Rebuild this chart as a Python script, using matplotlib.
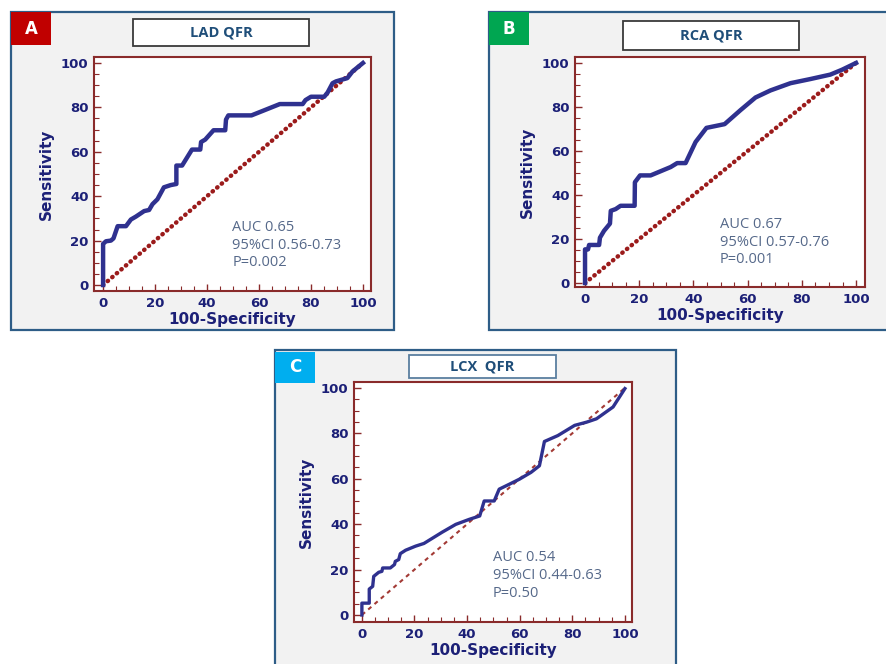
import numpy as np
import matplotlib
matplotlib.use("Agg")
import matplotlib.pyplot as plt
from matplotlib.patches import Rectangle
from matplotlib.ticker import MultipleLocator

# ROC curves (100-Specificity, Sensitivity)
lad_fpr = [0, 0, 1.1, 3, 4, 5.6, 8.8, 10.7, 12.6, 15.8, 17.7, 19, 20.9, 23.4, 26, 28.2, 28.2,
           30.4, 34.2, 37.4, 37.7, 39.3, 42.5, 47, 47.3, 48.2, 57.1, 61.6, 68, 76.8, 77.9, 80,
           85.1, 86.4, 88.3, 89.6, 94, 96, 100]
lad_tpr = [0, 18.5, 19.7, 20, 21, 26.5, 26.5, 29.5, 30.8, 33.3, 33.8, 36.4, 38.6, 44, 45, 45.5, 53.8,
           53.8, 61, 61, 64.4, 65.5, 69.7, 69.7, 74.5, 76.4, 76.4, 78.5, 81.5, 81.5, 83.3, 84.8,
           84.8, 86.7, 90.9, 91.7, 93.2, 96.2, 100]

rca_fpr = [0, 0, 1.1, 1.5, 5.2, 5.5, 7, 9.2, 9.5, 11.3, 13.1, 18.3, 18.4, 20.3, 24.2, 31.6, 34,
           37.1, 40.8, 44.8, 51.5, 57.4, 62.9, 68.4, 75.8, 83.2, 90.5, 94.8, 100]
rca_tpr = [0, 15.3, 15.3, 17.3, 17.3, 20.6, 23.7, 27, 32.8, 33.6, 35.1, 35.1, 45.8, 48.9, 48.9, 52.7,
           54.5, 54.5, 64.1, 70.5, 72.2, 78.6, 84.3, 87.5, 90.8, 92.7, 94.7, 96.9, 100]

lcx_fpr = [0, 0, 2.8, 2.8, 4.1, 4.5, 6.4, 7.6, 7.9, 10.8, 12.4, 12.7, 14, 14.6, 16.6, 20.4, 23.6,
           30.6, 35.7, 40.8, 44.8, 46.5, 50.3, 52.2, 56.1, 59.9, 64.3, 67.5, 69.4, 74.5, 80.9,
           85.4, 89.2, 95.5, 100]
lcx_tpr = [0, 5.2, 5.2, 11.4, 12.6, 17, 18.8, 19.2, 20.7, 20.7, 22.2, 23.6, 24.4, 27, 28.5, 30.3,
           31.5, 36.5, 39.9, 42.1, 43.6, 50.2, 50.2, 55.4, 57.6, 59.8, 62.8, 65.7, 76.4, 79, 83.5,
           84.9, 86.4, 91.6, 99.7]

titles = ["LAD QFR", "RCA QFR", "LCX  QFR"]
letters = ["A", "B", "C"]
stats = [["AUC 0.65", "95%CI 0.56-0.73", "P=0.002"],
         ["AUC 0.67", "95%CI 0.57-0.76", "P=0.001"],
         ["AUC 0.54", "95%CI 0.44-0.63", "P=0.50"]]

W, H = 886, 664
NAVY = "#1c2077"
CURVE = "#2f318f"
SPINE = "#8a2b2b"


def px_rect(x0, y0, x1, y1):
    # pixel box (top-left origin) -> figure fraction
    return x0 / W, 1 - y1 / H, (x1 - x0) / W, (y1 - y0) / H


fig = plt.figure(figsize=(W / 100, H / 100), dpi=100)
fig.patch.set_facecolor("white")

panels = [
    dict(frame=(11, 12, 394, 330), letter=(11, 12, 51, 45), lcol="#c00000",
         tbox=(133, 19, 309, 46), tedge="#3a3a3a", ax=(94, 57, 371, 291),
         xlim=(-3.5, 103.1), ylim=(-2.7, 102.7), lw=3.2, diag="dot"),
    dict(frame=(489, 12, 900, 330), letter=(489, 12, 529, 45), lcol="#00a651",
         tbox=(623, 21, 799, 50), tedge="#3a3a3a", ax=(575, 57, 865, 287),
         xlim=(-3.7, 103.3), ylim=(-1.8, 102.7), lw=3.2, diag="dot"),
    dict(frame=(275, 350, 676, 680), letter=(275, 352, 315, 383), lcol="#00aeef",
         tbox=(409, 355, 556, 378), tedge="#5b7fa0", ax=(354, 382, 632, 622),
         xlim=(-3.0, 102.7), ylim=(-3.1, 102.6), lw=2.4, diag="dash"),
]
curves = [(lad_fpr, lad_tpr), (rca_fpr, rca_tpr), (lcx_fpr, lcx_tpr)]

for i, p in enumerate(panels):
    x0, y0, w, h = px_rect(*p["frame"])
    fig.patches.append(Rectangle((x0, y0), w, h, transform=fig.transFigure,
                                 facecolor="#f2f2f2", edgecolor="#2e5d87", lw=1.6, zorder=-2))
    x0, y0, w, h = px_rect(*p["letter"])
    fig.patches.append(Rectangle((x0, y0), w, h, transform=fig.transFigure,
                                 facecolor=p["lcol"], edgecolor="none", zorder=-1))
    fig.text(x0 + w / 2, y0 + h / 2, letters[i], color="white", fontsize=12,
             fontweight="bold", ha="center", va="center")
    x0, y0, w, h = px_rect(*p["tbox"])
    fig.patches.append(Rectangle((x0, y0), w, h, transform=fig.transFigure,
                                 facecolor="white", edgecolor=p["tedge"], lw=1.3, zorder=-1))
    fig.text(x0 + w / 2, y0 + h / 2, titles[i], color="#1f4e79", fontsize=10.5,
             fontweight="bold", family="Open Sans", ha="center", va="center")

    ax = fig.add_axes(px_rect(*p["ax"]))
    ax.set_zorder(2)
    ax.set_facecolor("white")
    fpr, tpr = curves[i]
    if p["diag"] == "dot":
        ax.plot([0, 100], [0, 100], color="#9b1b1b", lw=3.2, dashes=(0.1, 1.25),
                dash_capstyle="round", zorder=2)
    else:
        ax.plot([0, 100], [0, 100], color="#a33a35", lw=1.5, dashes=(2, 2), zorder=2)
    ax.plot(fpr, tpr, color=CURVE, lw=p["lw"], solid_joinstyle="round", zorder=3)

    ax.set_xlim(*p["xlim"])
    ax.set_ylim(*p["ylim"])
    ax.xaxis.set_major_locator(MultipleLocator(20))
    ax.yaxis.set_major_locator(MultipleLocator(20))
    ax.xaxis.set_minor_locator(MultipleLocator(5))
    ax.yaxis.set_minor_locator(MultipleLocator(5))
    ax.tick_params(which="major", direction="in", length=5, width=1, color=SPINE,
                   labelcolor=NAVY, labelsize=9.5, pad=4)
    ax.tick_params(which="minor", direction="in", length=3.5, width=0.8, color=SPINE)
    for lab in ax.get_xticklabels() + ax.get_yticklabels():
        lab.set_fontweight("bold")
    for s in ax.spines.values():
        s.set_color(SPINE)
        s.set_linewidth(1.5)
    ax.set_xlabel("100-Specificity", fontsize=11, fontweight="bold", color=NAVY, labelpad=2)
    ax.set_ylabel("Sensitivity", fontsize=11, fontweight="bold", color=NAVY, labelpad=5)

    for k, line in enumerate(stats[i]):
        ax.text(0.5, 0.27 - k * 0.075, line, transform=ax.transAxes, fontsize=10.5,
                family="Open Sans", color="#56698a", ha="left", va="center")

fig.savefig("out.png", dpi=100)
